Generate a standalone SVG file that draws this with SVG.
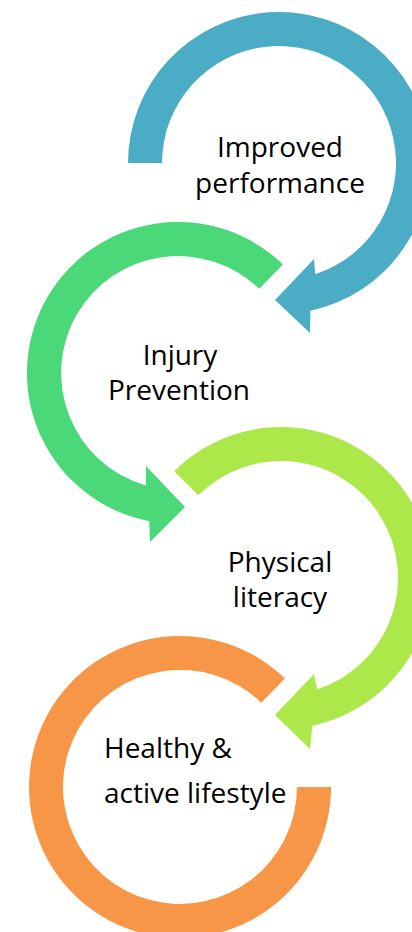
<svg xmlns="http://www.w3.org/2000/svg" width="412" height="932" viewBox="0 0 412 932">
<style>
.lbl{font-family:"Open Sans","Noto Sans","Liberation Sans",sans-serif;font-size:28px;fill:#000}
.mid{text-anchor:middle}
</style>
<rect width="412" height="932" fill="#fff"/>
<g id="node-improved-performance">
<path fill="#4BACC6" d="M128,163 A151,151 0 1 1 310.4,310.7 L310,333 L275,300 L314,259 L315.2,274.3 A117,117 0 1 0 162,163 Z"/>
<text class="lbl mid" x="280" y="157">Improved</text>
<text class="lbl mid" x="280" y="193">performance</text>
</g>
<g id="node-injury-prevention">
<path fill="#4AD878" d="M282.9,264.4 A151,151 0 1 0 149.2,521.2 L150,542 L185,507 L146,466 L145.8,485.5 A117,117 0 1 1 259.3,288.8 Z"/>
<text class="lbl mid" x="180" y="365">Injury</text>
<text class="lbl mid" x="179" y="400">Prevention</text>
</g>
<g id="node-physical-literacy">
<path fill="#ADE84A" d="M174.2,471.2 A151,151 0 1 1 312.4,725.7 L310,749 L275,715 L314,674 L317.2,689.3 A117,117 0 1 0 198.3,495.3 Z"/>
<text class="lbl mid" x="280" y="572">Physical</text>
<text class="lbl mid" x="280" y="607">literacy</text>
</g>
<g id="node-healthy-active-lifestyle">
<path fill="#F79646" d="M284.9,678.4 A151,151 0 1 0 331,787 L297,787 A117,117 0 1 1 261.3,702.8 Z"/>
<text class="lbl" x="104" y="758">Healthy &amp;</text>
<text class="lbl" x="104" y="803">active lifestyle</text>
</g>
<g id="connectors"></g>
</svg>
